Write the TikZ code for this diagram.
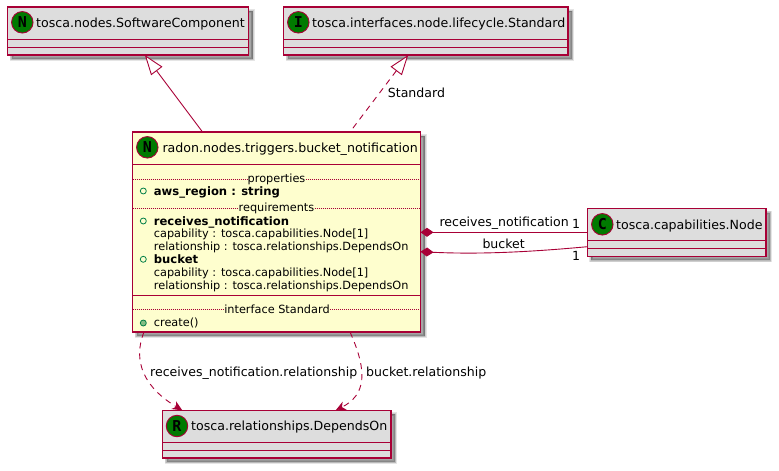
\documentclass[tikz,border=0pt]{standalone}
\usepackage{fontspec}
\setmainfont{DejaVu Sans}
\newfontfamily\spotfont{DejaVu Sans Mono}
\usetikzlibrary{arrows.meta,shadows}

\definecolor{umlred}{HTML}{A80036}
\definecolor{umlgrey}{HTML}{DDDDDD}
\definecolor{umlcream}{HTML}{FEFECE}
\definecolor{umlgreen}{HTML}{007A00}
\definecolor{umlteal}{HTML}{038048}
\definecolor{umlmint}{HTML}{84BE84}

\tikzset{
  softshadow/.style={
    drop shadow={shadow xshift=4pt,shadow yshift=-4pt,opacity=.1,fill=black,draw=black,line width=4pt},
    drop shadow={shadow xshift=4pt,shadow yshift=-4pt,opacity=.1,fill=black,draw=black,line width=2.5pt},
    drop shadow={shadow xshift=4pt,shadow yshift=-4pt,opacity=.1,fill=black,draw=black,line width=1pt},
    drop shadow={shadow xshift=4pt,shadow yshift=-4pt,opacity=.1,fill=black,draw=none}},
  classbox/.style={draw=umlred,line width=1.2pt,anchor=north west,inner sep=0pt,outer sep=0pt,softshadow},
  classline/.style={draw=umlred,line width=1.2pt},
  sepline/.style={draw=umlred,line width=.5pt,dash pattern=on 1pt off 1pt},
  spot/.style={circle,draw=umlred,line width=.9pt,fill=umlgreen,minimum size=21.5pt,inner sep=0pt,
    font=\spotfont\bfseries\fontsize{15}{15}\selectfont},
  title/.style={anchor=base west,inner sep=0pt,font=\fontsize{12.6}{15}\selectfont},
  member/.style={anchor=base west,inner sep=0pt,font=\fontsize{11.3}{12}\selectfont},
  boldmember/.style={member,font=\bfseries\fontsize{11.6}{12}\selectfont},
  sechead/.style={anchor=base,inner sep=0pt,font=\fontsize{11.3}{12}\selectfont},
  bullet/.style={circle,draw=umlteal,line width=.8pt,minimum size=6pt,inner sep=0pt},
  edgelabel/.style={anchor=base west,inner sep=0pt,font=\fontsize{12.55}{14}\selectfont},
  umlarrow/.style={draw=umlred,line width=.9pt},
  umldash/.style={umlarrow,dash pattern=on 6pt off 5pt},
  hollow/.style={{Triangle[open,fill=white,length=20pt,width=14pt]}-},
  comptip/.style={{Diamond[fill=umlred,length=13pt,width=9pt]}-},
  deptip/.style={-{Stealth[fill=umlred,length=10pt,width=9pt,inset=3pt]}}
}

\begin{document}
\begin{tikzpicture}[x=1pt,y=-1pt]
\useasboundingbox (0,0) rectangle (779,471);

% Parent classes
\node[classbox,fill=umlgrey,minimum width=241pt,minimum height=48pt] (software) at (7.5,7) {};
\draw[classline] ([yshift=-32.3pt]software.north west) -- ([yshift=-32.3pt]software.north east);
\draw[classline] ([yshift=-40.3pt]software.north west) -- ([yshift=-40.3pt]software.north east);
\node[spot] (softwarespot) at (22.3,22.3) {N};
\node[title] (softwaretitle) at (36,27.7) {tosca.nodes.SoftwareComponent};

\node[classbox,fill=umlgrey,minimum width=284.5pt,minimum height=48pt] (lifecycle) at (283.5,7) {};
\draw[classline] ([yshift=-32.3pt]lifecycle.north west) -- ([yshift=-32.3pt]lifecycle.north east);
\draw[classline] ([yshift=-40.3pt]lifecycle.north west) -- ([yshift=-40.3pt]lifecycle.north east);
\node[spot] (lifecyclespot) at (298.3,22.3) {I};
\node[title] (lifecycletitle) at (312,27.7) {tosca.interfaces.node.lifecycle.Standard};

% Main class
\node[classbox,fill=umlcream,minimum width=288pt,minimum height=200pt] (bucketnode) at (132.5,132) {};
\draw[classline] ([yshift=-32.5pt]bucketnode.north west) -- ([yshift=-32.5pt]bucketnode.north east);
\draw[classline] ([yshift=-163.3pt]bucketnode.north west) -- ([yshift=-163.3pt]bucketnode.north east);
\node[spot] (bucketspot) at (147.3,147.3) {N};
\node[title] (buckettitle) at (162.3,152.7) {radon.nodes.triggers.bucket\_notification};

\node[sechead] (prophead) at (276.5,182.2) {properties};
\draw[sepline] (bucketnode.west |- prophead) -- (prophead.west);
\draw[sepline] (prophead.east) -- (bucketnode.east |- prophead);
\node[bullet] (bulletaws) at (143.3,191) {};
\node[boldmember] (awsregion) at (153.7,195) {aws\_region : string};

\node[sechead] (reqhead) at (276.5,211.2) {requirements};
\draw[sepline] (bucketnode.west |- reqhead) -- (reqhead.west);
\draw[sepline] (reqhead.east) -- (bucketnode.east |- reqhead);
\node[bullet] (bulletrecv) at (143.3,221) {};
\node[boldmember] (recvreq) at (153.7,225) {receives\_notification};
\node[member] (recvcap) at (153.7,237.3) {capability : tosca.capabilities.Node[1]};
\node[member] (recvrel) at (153.7,250.3) {relationship : tosca.relationships.DependsOn};
\node[bullet] (bulletbucket) at (143.3,259.3) {};
\node[boldmember] (bucketreq) at (153.7,263.3) {bucket};
\node[member] (bucketcap) at (153.7,276) {capability : tosca.capabilities.Node[1]};
\node[member] (bucketrel) at (153.7,289) {relationship : tosca.relationships.DependsOn};

\node[sechead] (ifacehead) at (277,313) {interface Standard};
\draw[sepline] (bucketnode.west |- ifacehead) -- (ifacehead.west);
\draw[sepline] (ifacehead.east) -- (bucketnode.east |- ifacehead);
\node[bullet,fill=umlmint] (bulletcreate) at (143.3,323) {};
\node[member] (createop) at (153.7,326.3) {create()};

% Capability
\node[classbox,fill=umlgrey,minimum width=178.7pt,minimum height=47.6pt] (capnode) at (587.3,208.7) {};
\draw[classline] ([yshift=-32pt]capnode.north west) -- ([yshift=-32pt]capnode.north east);
\draw[classline] ([yshift=-39.6pt]capnode.north west) -- ([yshift=-39.6pt]capnode.north east);
\node[spot] (capspot) at (602.3,224.3) {C};
\node[title] (captitle) at (616,229.3) {tosca.capabilities.Node};

% Relationship
\node[classbox,fill=umlgrey,minimum width=228.3pt,minimum height=47.7pt] (dependson) at (162.7,410.3) {};
\draw[classline] ([yshift=-32pt]dependson.north west) -- ([yshift=-32pt]dependson.north east);
\draw[classline] ([yshift=-40pt]dependson.north west) -- ([yshift=-40pt]dependson.north east);
\node[spot] (dependsspot) at (177,426) {R};
\node[title] (dependstitle) at (191,430.3) {tosca.relationships.DependsOn};

% Arrows
\draw[umlarrow,hollow] ([xshift=-103.7pt]software.south east) -- ([xshift=-74pt]bucketnode.north);
\draw[umldash,hollow] ([xshift=-17.5pt]lifecycle.south) -- ([xshift=73.5pt]bucketnode.north);
\draw[umlarrow,comptip] ([yshift=-.3pt]bucketnode.east) -- ([yshift=.2pt]capnode.west);
\draw[umlarrow,comptip] ([yshift=-19.7pt]bucketnode.east) .. controls (480,254.5) and (530,252) .. ([yshift=-14.2pt]capnode.west);
\draw[umldash,deptip] ([xshift=11.5pt]bucketnode.south west) .. controls (132,362) and (145,388) .. ([xshift=19.6pt]dependson.north west);
\draw[umldash,deptip] ([xshift=217.5pt]bucketnode.south west) .. controls (368,372) and (366,395) .. ([xshift=173pt]dependson.north west);

% Labels
\node[edgelabel] (standardlabel) at (387.7,97.7) {Standard};
\node[edgelabel] (recvlabel) at (439.3,226) {receives\_notification};
\node[edgelabel] (recvone) at (572,228.3) {1};
\node[edgelabel] (bucketlabel) at (482.3,248.8) {bucket};
\node[edgelabel] (bucketone) at (572,260.5) {1};
\node[edgelabel] (recvrellabel) at (150,376) {receives\_notification.relationship};
\node[edgelabel] (bucketrellabel) at (366,376) {bucket.relationship};
\end{tikzpicture}
\end{document}
